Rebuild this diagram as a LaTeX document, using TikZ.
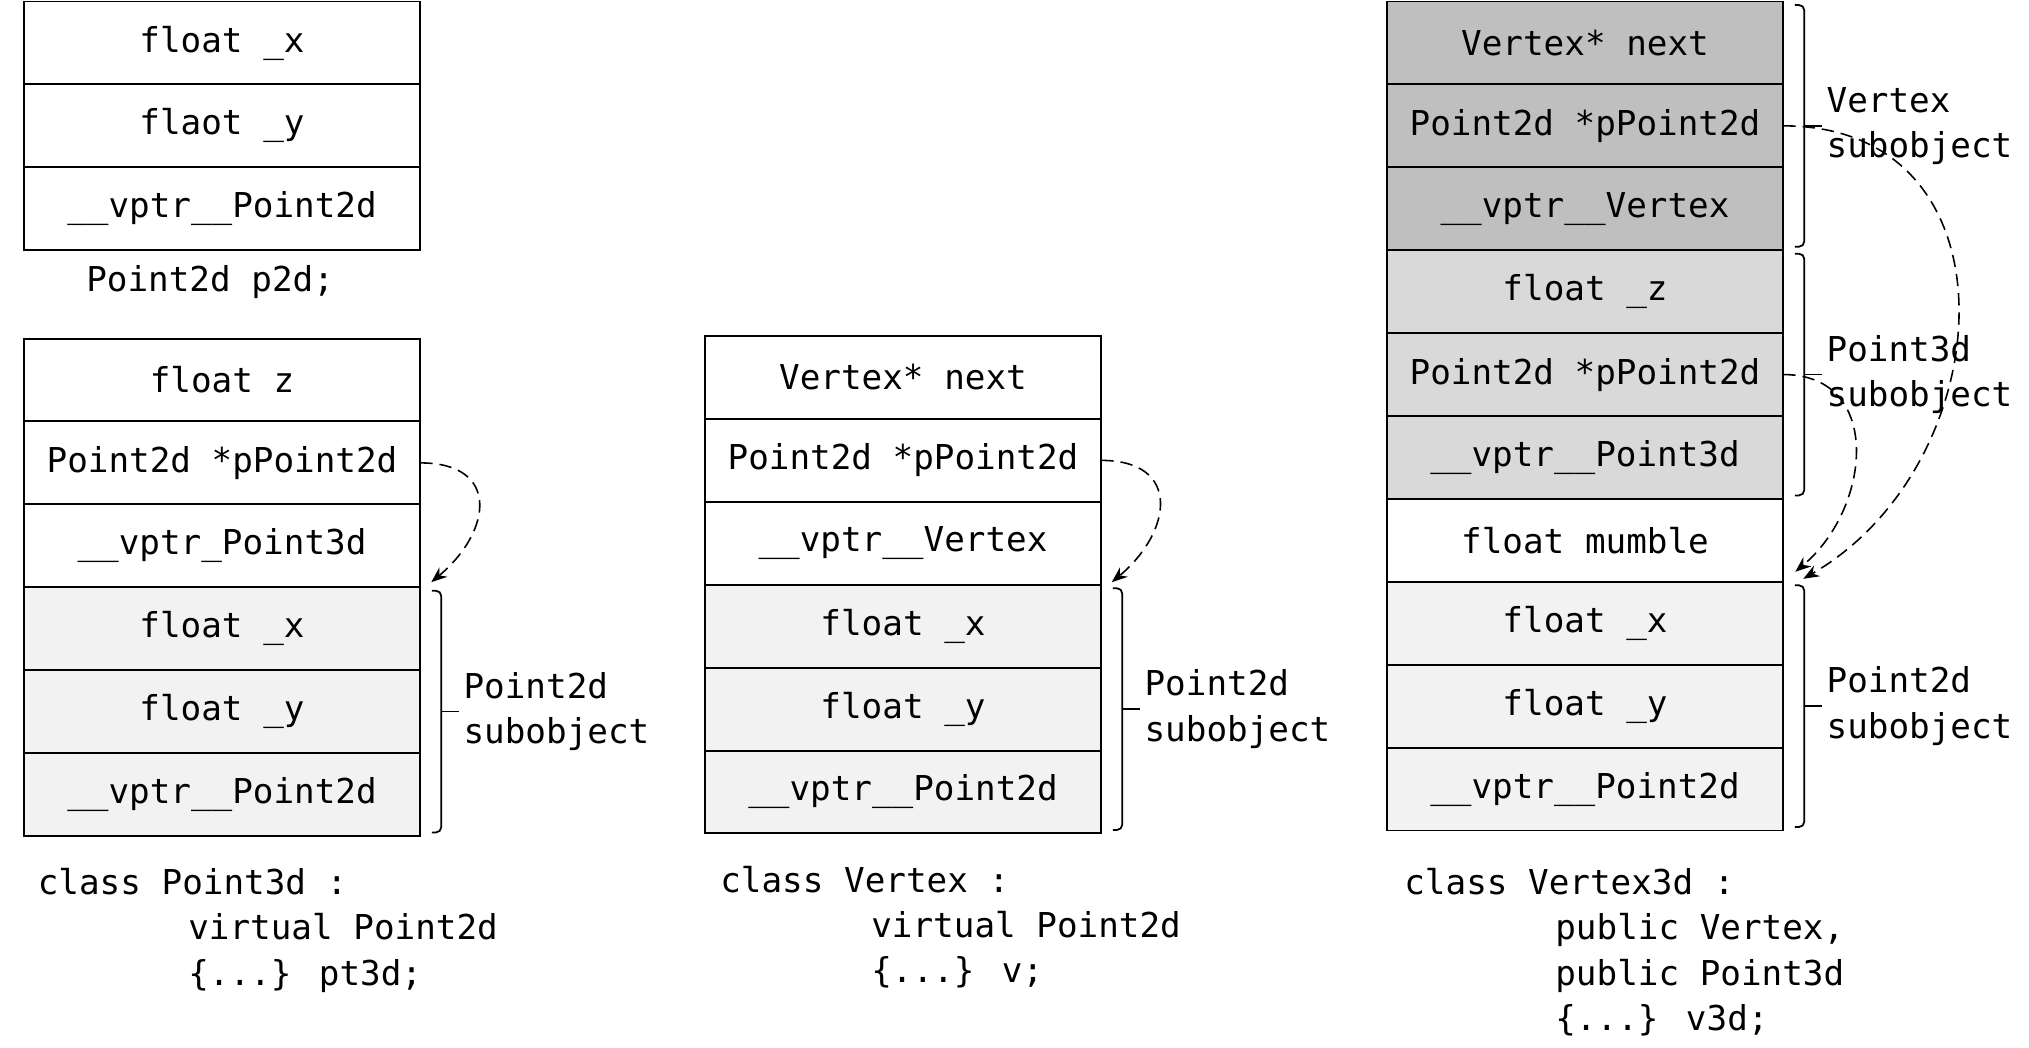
\documentclass[tikz,border=0pt]{standalone}
\usepackage{fontspec}
\newfontfamily\codefont{DejaVu Sans Mono}
\usetikzlibrary{calc,positioning,arrows.meta}
\definecolor{vtxgray}{HTML}{BFBFBF}
\definecolor{p3gray}{HTML}{D9D9D9}
\definecolor{p2gray}{HTML}{F2F2F2}

\begin{document}
\begin{tikzpicture}[font=\codefont\fontsize{19.5}{25.8}\selectfont,
		cell/.style={draw, line width=1.1pt, minimum width=7.93cm, minimum height=1.658cm, inner sep=0pt, outer sep=0pt},
		sub2d/.style={cell, fill=p2gray},
		ptr/.style={line width=0.9pt, dash pattern=on 7pt off 4pt, -{Stealth[length=9pt,width=7pt]}},
		brk/.style={line width=1pt, rounded corners=3pt},
		sublbl/.style={anchor=west, inner sep=0pt, align=left},
		decl/.style={anchor=north west, inner sep=0pt, align=left}]
		\useasboundingbox (0,0) rectangle (40.58,-20.96);

		\node[cell] (p2x) at (4.44,-0.859) {float \_x};
		\node[cell, below=0pt of p2x] (p2y) {flaot \_y};
		\node[cell, below=0pt of p2y] (p2vp) {\_\_vptr\_\_Point2d};
		\node[anchor=base west, inner sep=0pt] (capp2) at (1.72,-5.84) {Point2d p2d;};

		\node[cell] (p3z) at (4.44,-7.60) {float z};
		\node[cell, below=0pt of p3z] (p3pp) {Point2d *pPoint2d};
		\node[cell, below=0pt of p3pp] (p3vp) {\_\_vptr\_Point3d};
		\node[sub2d, below=0pt of p3vp] (p3x) {float \_x};
		\node[sub2d, below=0pt of p3x] (p3y) {float \_y};
		\node[sub2d, below=0pt of p3y] (p3vp2) {\_\_vptr\_\_Point2d};
		\node[decl] (capp3) at (0.75,-17.36) {class Point3d :\\\hspace*{3.01cm}virtual Point2d\\\hspace*{3.01cm}\char"7B...\char"7D{} pt3d;};

		\draw[ptr] (p3pp.east) .. controls +(0:1.6) and +(40:1.6) .. ($(p3vp.south east)+(0.22,0.1)$);
		\draw[brk] ($(p3x.north east)+(0.23,-0.07)$) -| ($(p3vp2.south east)+(0.42,0.07)$) -- ++(-0.19,0);
		\draw[brk] ($(p3y.east)+(0.42,0)$) -- ++(0.35,0);
		\node[sublbl] (p3lbl) at ($(p3y.east)+(0.86,0)$) {Point2d\\subobject};

		\node[cell] (vnext) at (18.06,-7.55) {Vertex* next};
		\node[cell, below=0pt of vnext] (vpp) {Point2d *pPoint2d};
		\node[cell, below=0pt of vpp] (vvp) {\_\_vptr\_\_Vertex};
		\node[sub2d, below=0pt of vvp] (vx) {float \_x};
		\node[sub2d, below=0pt of vx] (vy) {float \_y};
		\node[sub2d, below=0pt of vy] (vvp2) {\_\_vptr\_\_Point2d};
		\node[decl] (capv) at (14.40,-17.31) {class Vertex :\\\hspace*{3.02cm}virtual Point2d\\\hspace*{3.02cm}\char"7B...\char"7D{} v;};

		\draw[ptr] (vpp.east) .. controls +(0:1.6) and +(40:1.6) .. ($(vvp.south east)+(0.21,0.05)$);
		\draw[brk] ($(vx.north east)+(0.23,-0.07)$) -| ($(vvp2.south east)+(0.42,0.07)$) -- ++(-0.19,0);
		\draw[brk] ($(vy.east)+(0.42,0)$) -- ++(0.35,0);
		\node[sublbl] (vlbl) at ($(vy.east)+(0.86,0)$) {Point2d\\subobject};

		\node[cell, fill=vtxgray] (v3next) at (31.70,-0.859) {Vertex* next};
		\node[cell, fill=vtxgray, below=0pt of v3next] (v3pp) {Point2d *pPoint2d};
		\node[cell, fill=vtxgray, below=0pt of v3pp] (v3vp) {\_\_vptr\_\_Vertex};
		\node[cell, fill=p3gray, below=0pt of v3vp] (v3z) {float \_z};
		\node[cell, fill=p3gray, below=0pt of v3z] (v3pp2) {Point2d *pPoint2d};
		\node[cell, fill=p3gray, below=0pt of v3pp2] (v3vp3) {\_\_vptr\_\_Point3d};
		\node[cell, below=0pt of v3vp3] (v3mum) {float mumble};
		\node[sub2d, below=0pt of v3mum] (v3x) {float \_x};
		\node[sub2d, below=0pt of v3x] (v3y) {float \_y};
		\node[sub2d, below=0pt of v3y] (v3vp2) {\_\_vptr\_\_Point2d};
		\node[decl] (capv3) at (28.08,-17.36) {class Vertex3d :\\\hspace*{3.02cm}public Vertex,\\\hspace*{3.02cm}public Point3d\\\hspace*{3.02cm}\char"7B...\char"7D{} v3d;};

		\draw[ptr] (v3pp.east) .. controls +(0:4.8) and +(30:4.6) .. ($(v3mum.south east)+(0.4,0.06)$);
		\draw[ptr] (v3pp2.east) .. controls +(0:2) and +(40:2) .. ($(v3mum.south east)+(0.24,0.2)$);

		\draw[brk] ($(v3next.north east)+(0.23,-0.07)$) -| ($(v3vp.south east)+(0.42,0.07)$) -- ++(-0.19,0);
		\draw[brk] ($(v3pp.east)+(0.42,0)$) -- ++(0.35,0);
		\node[sublbl] (v3vlbl) at ($(v3pp.east)+(0.86,0)$) {Vertex\\subobject};
		\draw[brk] ($(v3z.north east)+(0.23,-0.07)$) -| ($(v3vp3.south east)+(0.42,0.07)$) -- ++(-0.19,0);
		\draw[brk] ($(v3pp2.east)+(0.42,0)$) -- ++(0.35,0);
		\node[sublbl] (v3p3lbl) at ($(v3pp2.east)+(0.86,0)$) {Point3d\\subobject};
		\draw[brk] ($(v3x.north east)+(0.23,-0.07)$) -| ($(v3vp2.south east)+(0.42,0.07)$) -- ++(-0.19,0);
		\draw[brk] ($(v3y.east)+(0.42,0)$) -- ++(0.35,0);
		\node[sublbl] (v3p2lbl) at ($(v3y.east)+(0.86,0)$) {Point2d\\subobject};
	\end{tikzpicture}
\end{document}
